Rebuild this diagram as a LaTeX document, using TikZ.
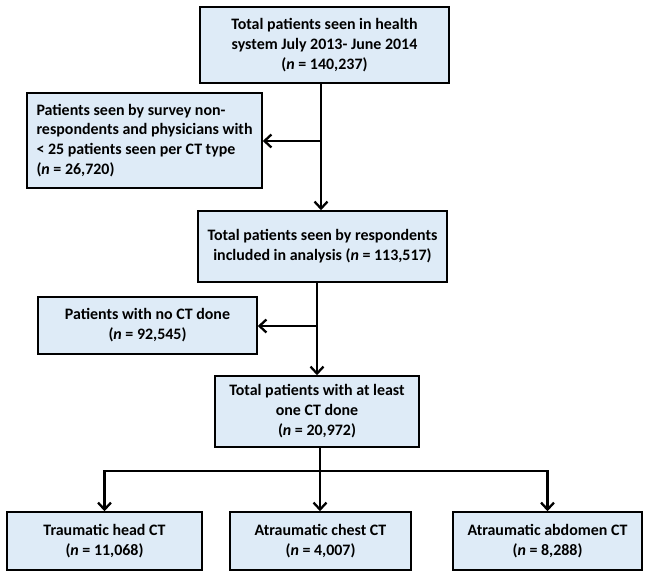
\documentclass[tikz,border=0pt]{standalone}
\usepackage{fontspec}
\setmainfont{Carlito}
\usetikzlibrary{arrows.meta}
\definecolor{boxblue}{RGB}{222,235,247}
\begin{document}
\begin{tikzpicture}[x=1bp, y=-1bp, font=\fontsize{16}{20}\selectfont\bfseries,
    box/.style={draw, line width=1.5bp, fill=boxblue, inner sep=0pt, align=center},
    line/.style={line width=2.3bp},
    link/.style={line, -{Straight Barb[length=7bp,width=13bp,line width=2.3bp]}}]
    \useasboundingbox (0,0) rectangle (648,578);
    % boxes
    \node[box, minimum width=249bp, minimum height=76bp] (seen) at (324.5,45) {Total patients seen in health\\system July 2013- June 2014\\(\textit{n} = 140,237)};
    \node[box, align=left, minimum width=235bp, minimum height=95bp] (survey) at (144.5,140.5) {Patients seen by survey non-\\respondents and physicians with\\< 25 patients seen per CT type\\(\textit{n} = 26,720)};
    \node[box, minimum width=249bp, minimum height=71bp] (resp) at (322.5,246.5) {Total patients seen by respondents\\included in analysis (\textit{n} = 113,517)};
    \node[box, minimum width=219bp, minimum height=57bp] (noct) at (147.5,325.5) {Patients with no CT done\\(\textit{n} = 92,545)};
    \node[box, minimum width=204bp, minimum height=71bp] (onect) at (317,411.5) {Total patients with at least\\one CT done\\(\textit{n} = 20,972)};
    \node[box, minimum width=195bp, minimum height=58bp] (head) at (104.5,541) {Traumatic head CT\\(\textit{n} = 11,068)};
    \node[box, minimum width=181bp, minimum height=58bp] (chest) at (320.5,541) {Atraumatic chest CT\\(\textit{n} = 4,007)};
    \node[box, minimum width=189bp, minimum height=58bp] (abdo) at (547.5,541) {Atraumatic abdomen CT\\(\textit{n} = 8,288)};
    % junctions
    \coordinate (j1) at (321,141);
    \coordinate (j2) at (317,326);
    \coordinate (j3) at (320,471);
    % connectors
    \draw[link] (seen.south -| j1) -- (resp.north -| j1);
    \draw[link] (j1) -- (survey.east |- j1);
    \draw[link] (resp.south -| j2) -- (onect.north -| j2);
    \draw[link] (j2) -- (noct.east |- j2);
    \draw[line] (onect.south -| j3) -- (j3);
    \draw[link] (j3) -| (head.north);
    \draw[link] (j3) -| (abdo.north);
    \draw[link] (j3) -- (chest.north -| j3);
\end{tikzpicture}
\end{document}
